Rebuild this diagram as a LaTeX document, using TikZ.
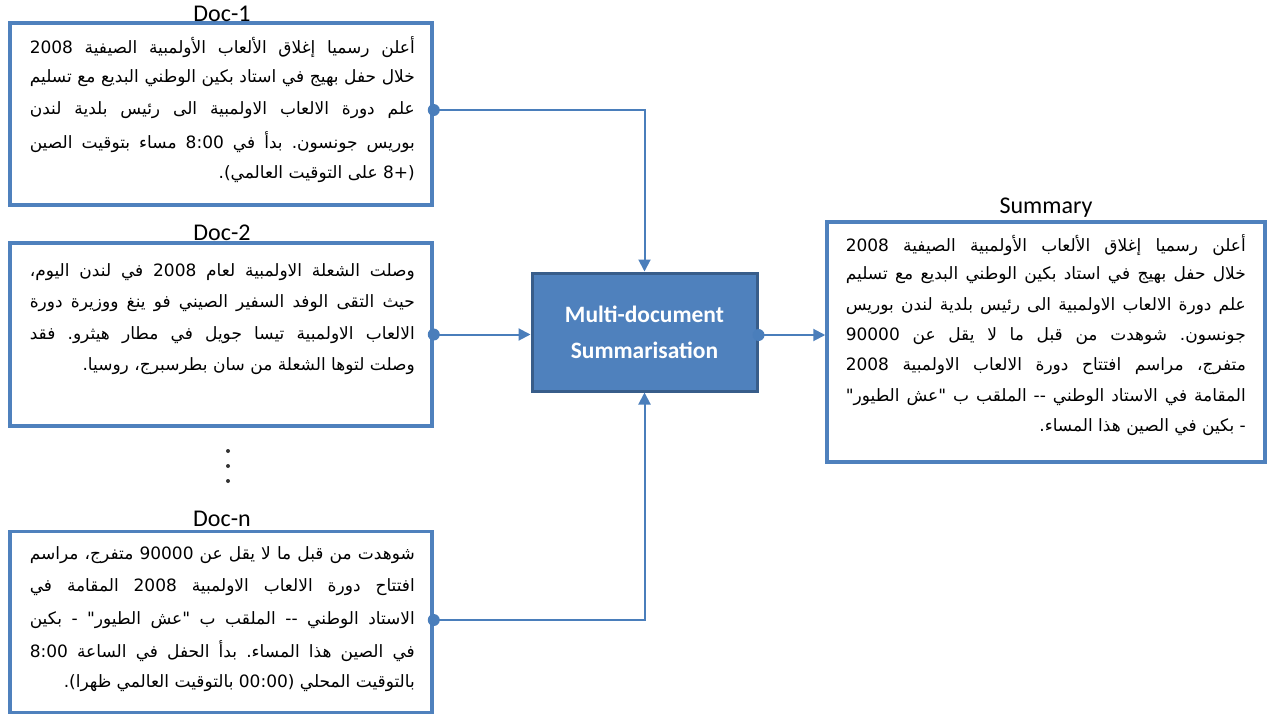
\documentclass[tikz,border=0pt]{standalone}
\usepackage{fontspec}
\setmainfont{Carlito}
\newfontfamily\arabicfont[Script=Arabic]{DejaVu Sans}
\TeXXeTstate=1
\frenchspacing
\usetikzlibrary{arrows.meta}

\definecolor{boxblue}{HTML}{4F81BD}
\definecolor{edgeblue}{HTML}{385D8A}
\definecolor{linkblue}{HTML}{4A7EBB}

% justified Arabic line of fixed width (text carries its own \beginR ... \endR)
\newcommand{\arjust}[2]{\makebox[#1][s]{\arabicfont #2}}
% last (ragged) Arabic line
\newcommand{\arlast}[1]{\mbox{\arabicfont #1}}

\tikzset{
  docbox/.style={draw=boxblue, line width=3.5pt, fill=white, inner sep=0pt},
  procbox/.style={draw=edgeblue, line width=3pt, fill=boxblue, inner sep=0pt,
    text=white, font=\fontsize{23.5}{36}\selectfont\bfseries, align=center},
  doclabel/.style={font=\fontsize{24}{26}\selectfont, text=black, inner sep=0pt},
  arline/.style={font=\fontsize{17}{20}\selectfont, inner sep=0pt, anchor=east},
  link/.style={draw=linkblue, line width=2pt, -{Triangle[length=12pt,width=12pt]}},
  dot/.style={circle, fill=linkblue, minimum size=12pt, inner sep=0pt},
  elldot/.style={circle, fill=black!80, minimum size=4pt, inner sep=0pt},
}

\begin{document}
\begin{tikzpicture}[x=1pt,y=-1pt]
\useasboundingbox (0,0) rectangle (1275,715);

% ---- input documents ----
\node[docbox, minimum width=422pt, minimum height=182pt] (d1) at (221,114) {};
\node[docbox, minimum width=422pt, minimum height=183pt] (d2) at (221,334.5) {};
\node[docbox, minimum width=422pt, minimum height=181pt] (dn) at (221,622) {};

\node[doclabel] (d1lab) at (222,14) {Doc-1};
\node[doclabel] (d2lab) at (222,233) {Doc-2};
\node[doclabel] (dnlab) at (222,519) {Doc-n};

% vertical ellipsis between Doc-2 and Doc-n
\node[elldot] (e1) at (228,451) {};
\node[elldot] (e2) at (228,466) {};
\node[elldot] (e3) at (228,481) {};

% Doc-1 text
\node[arline] (d1a) at (415,47)  {\arjust{385pt}{\beginR أعلن رسميا إغلاق الألعاب الأولمبية الصيفية \beginL 2008\endL{}\endR}};
\node[arline] (d1b) at (415,78)  {\arjust{385pt}{\beginR خلال حفل بهيج في استاد بكين الوطني البديع مع تسليم\endR}};
\node[arline] (d1c) at (415,110) {\arjust{385pt}{\beginR علم دورة الالعاب الاولمبية الى رئيس بلدية لندن\endR}};
\node[arline] (d1d) at (415,142) {\arjust{385pt}{\beginR بوريس جونسون. بدأ في \beginL 8:00\endL{} مساء بتوقيت الصين\endR}};
\node[arline] (d1e) at (415,174) {\arlast{\beginR (\beginL +8\endL{} على التوقيت العالمي).\endR}};

% Doc-2 text
\node[arline] (d2a) at (415,272) {\arjust{385pt}{\beginR وصلت الشعلة الاولمبية لعام \beginL 2008\endL{} في لندن اليوم،\endR}};
\node[arline] (d2b) at (415,303) {\arjust{385pt}{\beginR حيث التقى الوفد السفير الصيني فو ينغ ووزيرة دورة\endR}};
\node[arline] (d2c) at (415,335) {\arjust{385pt}{\beginR الالعاب الاولمبية تيسا جويل في مطار هيثرو. فقد\endR}};
\node[arline] (d2d) at (415,366) {\arlast{\beginR وصلت لتوها الشعلة من سان بطرسبرج، روسيا.\endR}};

% Doc-n text
\node[arline] (dna) at (415,555) {\arjust{385pt}{\beginR شوهدت من قبل ما لا يقل عن \beginL 90000\endL{} متفرج، مراسم\endR}};
\node[arline] (dnb) at (415,587) {\arjust{385pt}{\beginR افتتاح دورة الالعاب الاولمبية \beginL 2008\endL{} المقامة في\endR}};
\node[arline] (dnc) at (415,620) {\arjust{385pt}{\beginR الاستاد الوطني -- الملقب ب "عش الطيور" - بكين\endR}};
\node[arline] (dnd) at (415,651) {\arjust{385pt}{\beginR في الصين هذا المساء. بدأ الحفل في الساعة \beginL 8:00\endL{}\endR}};
\node[arline] (dne) at (415,683) {\arlast{\beginR بالتوقيت المحلي (\beginL 00:00\endL{} بالتوقيت العالمي ظهرا).\endR}};

% ---- summariser ----
\node[procbox, minimum width=225pt, minimum height=118pt] (mds) at (644.5,332)
  {Multi-document\\Summarisation};

% ---- summary ----
\node[docbox, minimum width=438pt, minimum height=240pt] (sum) at (1046,342) {};
\node[doclabel] (sumlab) at (1046,208) {Summary};

\node[arline] (sa) at (1246,245) {\arjust{400pt}{\beginR أعلن رسميا إغلاق الألعاب الأولمبية الصيفية \beginL 2008\endL{}\endR}};
\node[arline] (sb) at (1246,275) {\arjust{400pt}{\beginR خلال حفل بهيج في استاد بكين الوطني البديع مع تسليم\endR}};
\node[arline] (sc) at (1246,306) {\arjust{400pt}{\beginR علم دورة الالعاب الاولمبية الى رئيس بلدية لندن بوريس\endR}};
\node[arline] (sd) at (1246,336) {\arjust{400pt}{\beginR جونسون. شوهدت من قبل ما لا يقل عن \beginL 90000\endL{}\endR}};
\node[arline] (se) at (1246,366) {\arjust{400pt}{\beginR متفرج، مراسم افتتاح دورة الالعاب الاولمبية \beginL 2008\endL{}\endR}};
\node[arline] (sf) at (1246,397) {\arjust{400pt}{\beginR المقامة في الاستاد الوطني -- الملقب ب "عش الطيور"\endR}};
\node[arline] (sg) at (1246,427) {\arlast{\beginR - بكين في الصين هذا المساء.\endR}};

% ---- connectors ----
\coordinate (p1) at ([yshift=4pt]d1.east);
\coordinate (pn) at ([yshift=2pt]dn.east);
\coordinate (pm) at ([yshift=-3pt]mds.east);
\draw[link] (p1) -| (mds.north);
\draw[link] (d2.east) -- (mds.west |- d2.east);
\draw[link] (pn) -| (mds.south);
\draw[link] (pm) -- (sum.west |- pm);

\node[dot] (k1) at (p1) {};
\node[dot] (k2) at (d2.east) {};
\node[dot] (kn) at (pn) {};
\node[dot] (km) at (pm) {};
\end{tikzpicture}
\end{document}
